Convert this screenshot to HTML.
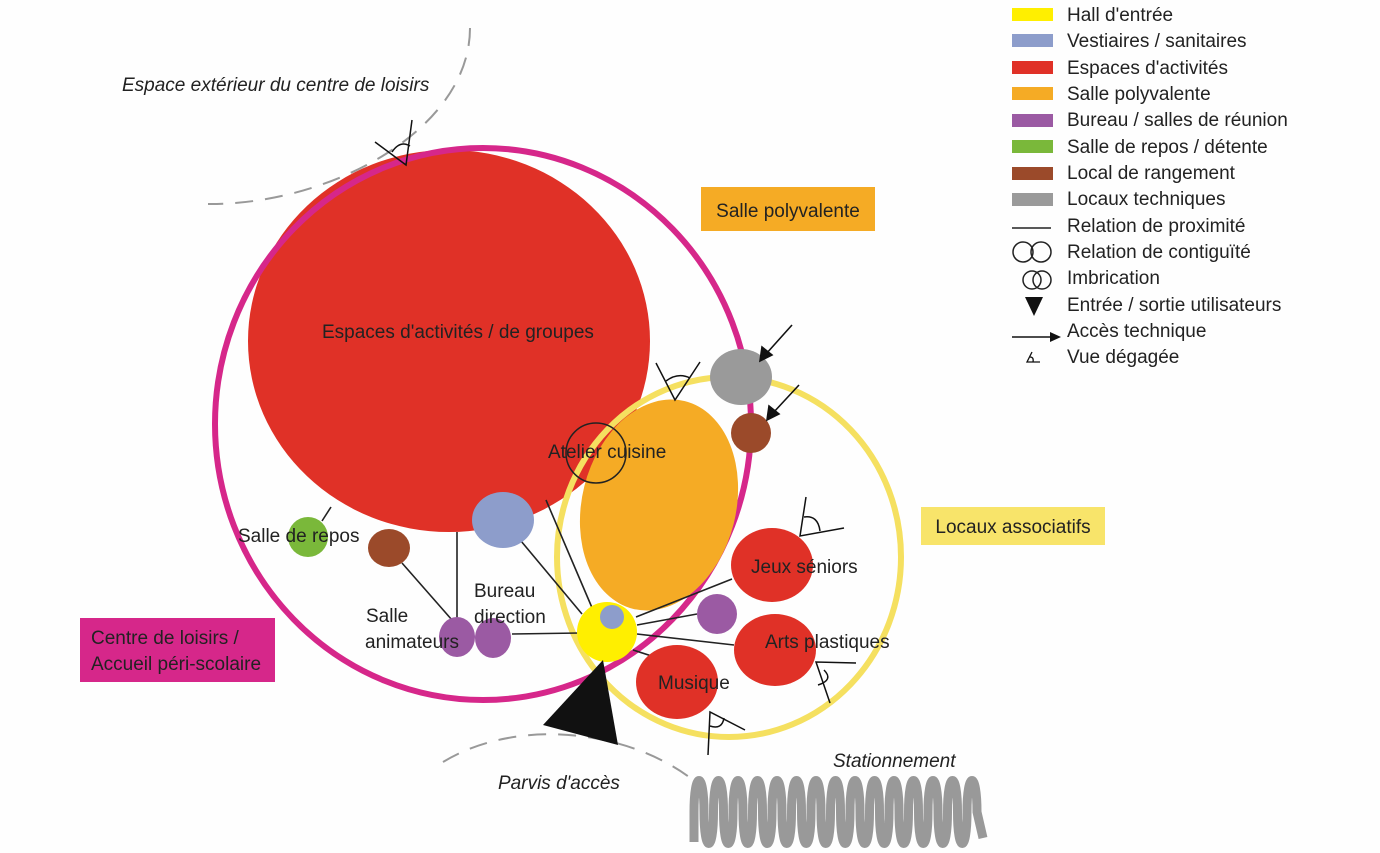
<!DOCTYPE html>
<html><head><meta charset="utf-8"><style>
body{margin:0;background:#fff;}
svg{display:block;font-family:"Liberation Sans",sans-serif;}
</style></head><body>
<svg width="1380" height="853" viewBox="0 0 1380 853" xmlns="http://www.w3.org/2000/svg">
<rect width="1380" height="853" fill="#fefefe"/>
<path d="M470 28 C 470 130 330 205 208 204" fill="none" stroke="#999" stroke-width="2" stroke-dasharray="18,12"/>
<path d="M443 762 C 520 715 640 730 705 790" fill="none" stroke="#999" stroke-width="2" stroke-dasharray="18,12"/>
<ellipse cx="449" cy="341" rx="201" ry="191" fill="#e03127"/>
<ellipse cx="483" cy="424" rx="268" ry="276" fill="none" stroke="#d6278a" stroke-width="6"/>
<ellipse cx="729" cy="557" rx="172" ry="180" fill="none" stroke="#f5e060" stroke-width="6"/>
<ellipse cx="659" cy="505" rx="77" ry="107" transform="rotate(14 659 505)" fill="#f5ab25"/>
<circle cx="596" cy="453" r="30" fill="none" stroke="#222" stroke-width="1.5"/>
<g stroke="#222" stroke-width="1.6">
<line x1="322" y1="521" x2="331" y2="507"/>
<line x1="402" y1="563" x2="452" y2="620"/>
<line x1="457" y1="532" x2="457" y2="618"/>
<line x1="521" y1="541" x2="582" y2="614"/>
<line x1="546" y1="500" x2="593" y2="610"/>
<line x1="512" y1="634" x2="580" y2="633"/>
<line x1="636" y1="617" x2="732" y2="579"/>
<line x1="637" y1="625" x2="697" y2="614"/>
<line x1="637" y1="634" x2="734" y2="645"/>
<line x1="633" y1="650" x2="664" y2="660"/>
</g>
<ellipse cx="741" cy="377" rx="31" ry="28" fill="#9a9a9a"/>
<circle cx="751" cy="433" r="20" fill="#9b4a2a"/>
<ellipse cx="503" cy="520" rx="31" ry="28" fill="#8d9dcb"/>
<circle cx="308" cy="537" r="20" fill="#7ab83a"/>
<ellipse cx="389" cy="548" rx="21" ry="19" fill="#9b4a2a"/>
<ellipse cx="457" cy="637" rx="18" ry="20" fill="#9b5aa3"/>
<ellipse cx="493" cy="638" rx="18" ry="20" fill="#9b5aa3"/>
<circle cx="607" cy="632" r="30" fill="#ffef00"/>
<circle cx="612" cy="617" r="12" fill="#8d9dcb"/>
<circle cx="717" cy="614" r="20" fill="#9b5aa3"/>
<ellipse cx="772" cy="565" rx="41" ry="37" fill="#e03127"/>
<ellipse cx="775" cy="650" rx="41" ry="36" fill="#e03127"/>
<ellipse cx="677" cy="682" rx="41" ry="37" fill="#e03127"/>
<polygon points="543,725 603,660 618,745" fill="#111"/>
<g stroke="#111" stroke-width="1.6" fill="#111">
<line x1="792" y1="325" x2="766" y2="354"/>
<polygon points="760,361 762,347 772,355"/>
<line x1="799" y1="385" x2="773" y2="413"/>
<polygon points="767,420 769,406 779,414"/>
</g>
<g stroke="#111" stroke-width="1.5" fill="none">
<path d="M375 142 L406 165 L412 120"/><path d="M392 152 Q400 140 410 146"/>
<path d="M656 363 L675 400 L700 362"/><path d="M666 381 Q678 372 690 378"/>
<path d="M806 497 L800 536 L844 528"/><path d="M804 517 Q818 515 820 531"/>
<path d="M856 663 L816 662 L830 703"/><path d="M824 670 Q834 680 818 685"/>
<path d="M708 755 L710 712 L745 730"/><path d="M710 726 Q722 730 724 718"/>
</g>
<path d="M694 842 L694 812 c0,-42 10,-42 10,0 c0,42 9.5,42 9.5,0 c0,-42 10,-42 10,0 c0,42 9.5,42 9.5,0 c0,-42 10,-42 10,0 c0,42 9.5,42 9.5,0 c0,-42 10,-42 10,0 c0,42 9.5,42 9.5,0 c0,-42 10,-42 10,0 c0,42 9.5,42 9.5,0 c0,-42 10,-42 10,0 c0,42 9.5,42 9.5,0 c0,-42 10,-42 10,0 c0,42 9.5,42 9.5,0 c0,-42 10,-42 10,0 c0,42 9.5,42 9.5,0 c0,-42 10,-42 10,0 c0,42 9.5,42 9.5,0 c0,-42 10,-42 10,0 c0,42 9.5,42 9.5,0 c0,-42 10,-42 10,0 c0,42 9.5,42 9.5,0 c0,-42 10,-42 10,0 c0,42 9.5,42 9.5,0 c0,-42 10,-42 10,0 c0,42 9.5,42 9.5,0 c0,-42 10,-42 10,0 c0,42 9.5,42 9.5,0 c0,-42 10,-42 10,0 L983 838" fill="none" stroke="#999" stroke-width="9"/>
<rect x="701" y="187" width="174" height="44" fill="#f5ab25"/>
<text x="788" y="217" font-size="19" text-anchor="middle" fill="#222">Salle polyvalente</text>
<rect x="921" y="507" width="184" height="38" fill="#f8e46a"/>
<text x="1013" y="533" font-size="19" text-anchor="middle" fill="#222">Locaux associatifs</text>
<rect x="80" y="618" width="195" height="64" fill="#d6278a"/>
<text x="91" y="644" font-size="19" fill="#222">Centre de loisirs /</text>
<text x="91" y="670" font-size="19" fill="#222">Accueil péri-scolaire</text>
<g font-size="19" fill="#222">
<text x="322" y="338">Espaces d'activités / de groupes</text>
<text x="548" y="458">Atelier cuisine</text>
<text x="238" y="542">Salle de repos</text>
<text x="474" y="597">Bureau</text>
<text x="474" y="623">direction</text>
<text x="366" y="622">Salle</text>
<text x="365" y="648">animateurs</text>
<text x="751" y="573">Jeux séniors</text>
<text x="765" y="648">Arts plastiques</text>
<text x="658" y="689">Musique</text>
</g>
<g font-size="19" fill="#222" font-style="italic">
<text x="122" y="91">Espace extérieur du centre de loisirs</text>
<text x="498" y="789">Parvis d'accès</text>
<text x="833" y="767">Stationnement</text>
</g>
<g>
<rect x="1012" y="8" width="41" height="13" fill="#ffef00"/>
<rect x="1012" y="34" width="41" height="13" fill="#8d9dcb"/>
<rect x="1012" y="61" width="41" height="13" fill="#e03127"/>
<rect x="1012" y="87" width="41" height="13" fill="#f5ab25"/>
<rect x="1012" y="114" width="41" height="13" fill="#9b5aa3"/>
<rect x="1012" y="140" width="41" height="13" fill="#7ab83a"/>
<rect x="1012" y="167" width="41" height="13" fill="#9b4a2a"/>
<rect x="1012" y="193" width="41" height="13" fill="#9a9a9a"/>
<line x1="1012" y1="228" x2="1051" y2="228" stroke="#222" stroke-width="1.5"/>
<circle cx="1023" cy="252" r="10" fill="none" stroke="#222" stroke-width="1.5"/>
<circle cx="1041" cy="252" r="10" fill="none" stroke="#222" stroke-width="1.5"/>
<circle cx="1032" cy="280" r="9" fill="none" stroke="#222" stroke-width="1.5"/>
<circle cx="1042" cy="280" r="9" fill="none" stroke="#222" stroke-width="1.5"/>
<polygon points="1025,297 1043,297 1034,316" fill="#111"/>
<line x1="1012" y1="337" x2="1054" y2="337" stroke="#111" stroke-width="1.5"/>
<polygon points="1061,337 1050,332 1050,342" fill="#111"/>
<path d="M1032 352 L1027 362 L1040 362 M1030 357 Q1034 357 1033 362" fill="none" stroke="#111" stroke-width="1.3"/>
</g>
<g font-size="19" fill="#222">
<text x="1067" y="21">Hall d'entrée</text>
<text x="1067" y="47">Vestiaires / sanitaires</text>
<text x="1067" y="74">Espaces d'activités</text>
<text x="1067" y="100">Salle polyvalente</text>
<text x="1067" y="126">Bureau / salles de réunion</text>
<text x="1067" y="153">Salle de repos / détente</text>
<text x="1067" y="179">Local de rangement</text>
<text x="1067" y="205">Locaux techniques</text>
<text x="1067" y="232">Relation de proximité</text>
<text x="1067" y="258">Relation de contiguïté</text>
<text x="1067" y="284">Imbrication</text>
<text x="1067" y="311">Entrée / sortie utilisateurs</text>
<text x="1067" y="337">Accès technique</text>
<text x="1067" y="363">Vue dégagée</text>
</g>
</svg>
</body></html>
